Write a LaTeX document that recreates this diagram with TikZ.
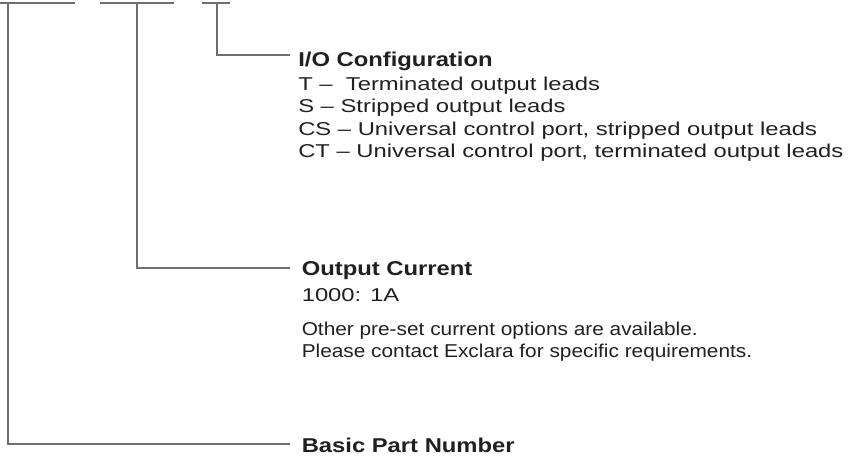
\documentclass[tikz,border=0pt]{standalone}
\usepackage{fontspec}
\newfontfamily\itemfont{Liberation Sans}[FakeStretch=1.28]
\newfontfamily\headfont{Liberation Sans}[FakeStretch=1.19]
\newfontfamily\notefont{Liberation Sans}[FakeStretch=1.12]
\definecolor{leadgray}{HTML}{6D6E71}
\definecolor{inkdark}{HTML}{231F20}
\tikzset{
    bar/.style={draw=leadgray, line width=1.5pt},
    headtext/.style={anchor=base west, inner sep=0pt, text=inkdark, font=\headfont\fontsize{15pt}{18pt}\selectfont\bfseries},
    itemtext/.style={anchor=base west, inner sep=0pt, text=inkdark, font=\itemfont\fontsize{13.95pt}{16pt}\selectfont},
    notetext/.style={anchor=base west, inner sep=0pt, text=inkdark, font=\notefont\fontsize{13.95pt}{16pt}\selectfont}
}

\begin{document}
\begin{tikzpicture}[x=0.75pt,y=-0.75pt]
    \useasboundingbox (0,0) rectangle (849,457);

    % the three fields of the part number
    \foreach \k/\a/\b/\s/\y in {0/0/75/8/444, 1/100/174/137/268, 2/202/230/217/55} {
        \draw[bar] (\a,3) -- (\b,3);
        \coordinate (s\k) at (\s,3);
        \coordinate (e\k) at (290,\y);
    }

    % I/O configuration
    \node[headtext] (io) at (298,66) {I/O Configuration};
    \foreach \y/\t [count=\k] in {90/{T –\ \ Terminated output leads},
                                  112.5/{S – Stripped output leads},
                                  135/{CS – Universal control port, stripped output leads},
                                  157.5/{CT – Universal control port, terminated output leads}}
      \node[itemtext] (io\k) at (298,\y) {\t};

    % output current
    \node[headtext] (out) at (301.5,275.5) {Output Current};
    \node[itemtext] (out1) at (301.5,301) {1000: 1A};
    \node[notetext] (note1) at (301.5,335) {Other pre-set current options are available.};
    \node[notetext] (note2) at (301.5,357) {Please contact Exclara for specific requirements.};

    % basic part number
    \node[headtext] (basic) at (301.5,452) {Basic Part Number};

    \foreach \k in {0,1,2}
      \draw[bar] (s\k) |- (e\k);
\end{tikzpicture}
\end{document}
